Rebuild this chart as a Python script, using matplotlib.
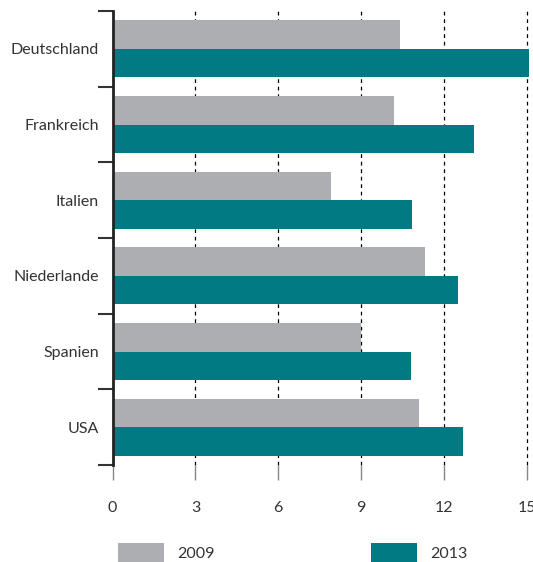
import matplotlib.pyplot as plt
import numpy as np

countries = ["Deutschland", "Frankreich", "Italien", "Niederlande", "Spanien", "USA"]
values_2009 = [10.4, 10.2, 7.9, 11.3, 9.0, 11.1]
values_2013 = [15.1, 13.1, 10.85, 12.5, 10.8, 12.7]
x_ticks = [0, 3, 6, 9, 12, 15]

gray = "#adaeb2"
teal = "#017a83"
text_color = "#333333"

plt.rcParams["font.family"] = ["Lato", "DejaVu Sans"]
plt.rcParams["font.size"] = 11.5

fig = plt.figure(figsize=(5.33, 5.62), dpi=100)
ax = fig.add_axes([0.2114, 0.1726, 0.7767, 0.8078])

pos = np.arange(len(countries)) + 0.5
h = 0.375
ax.barh(pos - h / 2, values_2009, height=h, color=gray, label="2009", clip_on=False, zorder=3)
ax.barh(pos + h / 2, values_2013, height=h, color=teal, label="2013", clip_on=False, zorder=3)

ax.set_xlim(0, 15)
ax.set_ylim(len(countries), 0)

ax.set_yticks(pos)
ax.set_yticklabels(countries, color=text_color)
ax.set_yticks(np.arange(len(countries) + 1), minor=True)
ax.tick_params(axis="y", which="major", length=0, pad=10)
ax.tick_params(axis="y", which="minor", length=10.8, width=1.5, color="#333333", direction="out")

ax.set_xticks(x_ticks)
ax.set_xticklabels([str(t) for t in x_ticks], color=text_color)
ax.tick_params(axis="x", length=10.8, width=1, color="#888888", direction="out", pad=15)

# dashed guide lines at each tick except 0
for t in x_ticks[1:]:
    ax.axvline(t, color="black", linewidth=0.9, linestyle=(0, (3, 3)), zorder=1, clip_on=False)

for s in ["top", "right", "bottom"]:
    ax.spines[s].set_visible(False)
ax.spines["left"].set_linewidth(2)
ax.spines["left"].set_color("#222222")
ax.spines["left"].set_zorder(4)

fig.legend(loc="center left", bbox_to_anchor=(0.2214, 0.0160), ncol=2, frameon=False,
           handlelength=2.9, handleheight=1.5, handletextpad=0.8, columnspacing=9.8,
           borderpad=0, borderaxespad=0, labelcolor=text_color)

fig.savefig("out.png", dpi=100)
